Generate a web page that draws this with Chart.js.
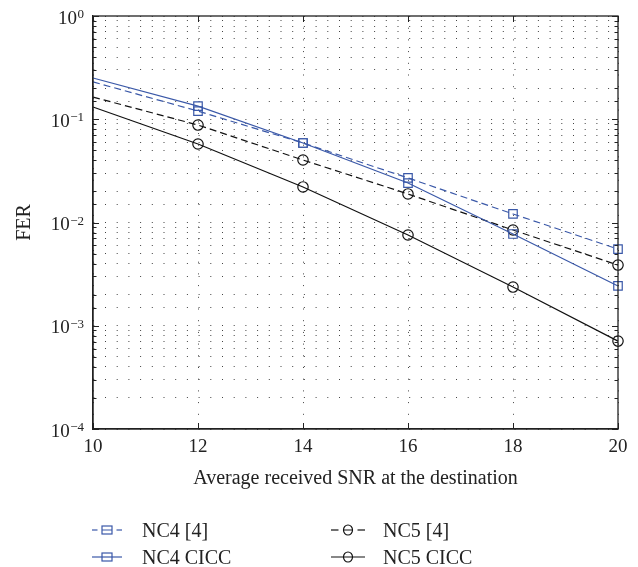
<!DOCTYPE html>
<html><head><meta charset="utf-8">
<script src="https://cdn.jsdelivr.net/npm/chart.js@4/dist/chart.umd.min.js"></script>
<style>
html,body{margin:0;padding:0;background:#fff;}
#wrap{position:relative;width:638px;height:567px;}
#c{position:absolute;left:0;top:0;}
.leg{position:absolute;font-family:"Liberation Serif","Times New Roman",serif;font-size:20px;color:#222;height:24px;line-height:24px;white-space:nowrap;}
.leg svg{position:absolute;left:0;top:0;}
.leg span{position:absolute;top:0;}
</style></head><body>
<div id="wrap"><canvas id="c" width="638" height="567"></canvas><div id="legend"></div></div>
<script>
const snr = [10, 12, 14, 16, 18, 20];
const nc4Ref  = [0.230, 0.120, 0.0589, 0.0270, 0.0121, 0.00553];
const nc4Cicc = [0.251, 0.134, 0.0589, 0.0241, 0.00774, 0.00243];
const nc5Ref  = [0.164, 0.0879, 0.0403, 0.0189, 0.00846, 0.00387];
const nc5Cicc = [0.1315, 0.0576, 0.0221, 0.00757, 0.00237, 0.00071];
const seriesLabels = ['NC4 [4]', 'NC4 CICC', 'NC5 [4]', 'NC5 CICC'];
const yExponents = [-4, -3, -2, -1, 0];
const yTickBase = '10';
const yTickExp = ['\u22124', '\u22123', '\u22122', '\u22121', '0'];
const xTickLabels = ['10', '12', '14', '16', '18', '20'];
const xTitle = 'Average received SNR at the destination';
const yTitle = 'FER';

const BLUE = '#3a58a8';
const BLACK = '#111';
const DASH = [7, 4];
const serif = '"Liberation Serif", "Times New Roman", serif';

function pts(arr){ return snr.map((x,i)=>({x:x, y:arr[i]})); }
function ds(label, arr, color, dashed, style){
  return {
    label: label, data: pts(arr), borderColor: color, borderWidth: 1.2,
    borderDash: dashed ? DASH : [], pointStyle: style,
    pointRadius: c => c.dataIndex === 0 ? 0 : (style === 'rect' ? 6 : 5.2),
    pointBorderColor: color, pointBackgroundColor: 'rgba(0,0,0,0)', pointBorderWidth: 1.2,
    fill: false, tension: 0, clip: 10
  };
}
const styles = [
  {color: BLUE, dashed: true, style: 'rect'},
  {color: BLUE, dashed: false, style: 'rect'},
  {color: BLACK, dashed: true, style: 'circle'},
  {color: BLACK, dashed: false, style: 'circle'}
];
const seriesData = [nc4Ref, nc4Cicc, nc5Ref, nc5Cicc];

function decadeIndex(v){
  const e = Math.log10(v);
  const r = Math.round(e);
  if (Math.abs(e - r) < 1e-6) return yExponents.indexOf(r);
  return -1;
}

const frame = {
  id: 'frame',
  afterDraw(chart){
    const ctx = chart.ctx, a = chart.chartArea, ys = chart.scales.y, xs = chart.scales.x;
    ctx.save();
    ctx.strokeStyle = '#222'; ctx.lineWidth = 1;
    ctx.beginPath();
    ys.ticks.forEach(t => {
      const p = Math.round(ys.getPixelForValue(t.value)) + 0.5;
      const len = decadeIndex(t.value) >= 0 ? 6 : 3.5;
      ctx.moveTo(a.left, p); ctx.lineTo(a.left + len, p);
      ctx.moveTo(a.right, p); ctx.lineTo(a.right - len, p);
    });
    xs.ticks.forEach(t => {
      const p = Math.round(xs.getPixelForValue(t.value)) + 0.5;
      ctx.moveTo(p, a.bottom); ctx.lineTo(p, a.bottom - 6);
      ctx.moveTo(p, a.top); ctx.lineTo(p, a.top + 6);
    });
    ctx.stroke();
    ctx.lineWidth = 1.3;
    ctx.strokeRect(a.left, a.top, a.right - a.left, a.bottom - a.top);
    // y tick labels: 10 with superscript exponent
    ctx.fillStyle = '#222';
    ctx.textBaseline = 'alphabetic';
    ys.ticks.forEach(t => {
      const i = decadeIndex(t.value);
      if (i < 0) return;
      const p = ys.getPixelForValue(t.value);
      const right = a.left - 9;
      ctx.font = '13px ' + serif;
      const ew = ctx.measureText(yTickExp[i]).width;
      ctx.textAlign = 'right';
      ctx.fillText(yTickExp[i], right, p + 2);
      ctx.font = '19px ' + serif;
      ctx.fillText(yTickBase, right - ew - 0.5, p + 7.5);
    });
    ctx.restore();
  }
};

new Chart(document.getElementById('c'), {
  type: 'line',
  data: { datasets: seriesData.map((arr,i)=>ds(seriesLabels[i], arr, styles[i].color, styles[i].dashed, styles[i].style)) },
  options: {
    responsive: false, animation: false, devicePixelRatio: 1,
    layout: { padding: { left: 0, right: 20, top: 16, bottom: 76 } },
    plugins: { legend: { display: false }, tooltip: { enabled: false } },
    scales: {
      x: {
        type: 'linear', min: 10, max: 20,
        afterFit: s => { s.height = 62; },
        ticks: { stepSize: 2, autoSkip: false, maxRotation: 0, padding: 7, color: '#222',
          font: { family: serif, size: 19 },
          callback: (v) => { const i = snr.indexOf(v); return i >= 0 ? xTickLabels[i] : ''; } },
        grid: { color: '#444', lineWidth: 1, drawTicks: false },
        border: { display: true, color: '#222', width: 1.3, dash: [1, 10.7] },
        title: { display: true, text: xTitle, color: '#222', font: { family: serif, size: 20 }, padding: { top: 0, bottom: 0 } }
      },
      y: {
        type: 'logarithmic', min: 1e-4, max: 1,
        afterFit: s => { s.width = 93; },
        ticks: { display: false, autoSkip: false },
        grid: { color: '#444', lineWidth: 1, drawTicks: false },
        border: { display: true, color: '#222', width: 1.3, dash: [1, 10.7] },
        title: { display: true, text: yTitle, color: '#222', font: { family: serif, size: 20 }, padding: { top: 13, bottom: 0 } }
      }
    }
  },
  plugins: [frame]
});

// HTML legend built from the series definitions
const legendPos = [
  {left: 92, top: 518, w: 30, tx: 50}, {left: 92, top: 545, w: 30, tx: 50},
  {left: 331, top: 518, w: 34, tx: 52}, {left: 331, top: 545, w: 34, tx: 52}
];
const legend = document.getElementById('legend');
seriesLabels.forEach((lab, i) => {
  const st = styles[i], p = legendPos[i];
  const d = document.createElement('div');
  d.className = 'leg';
  d.style.left = p.left + 'px'; d.style.top = p.top + 'px'; d.style.width = '180px';
  const w = p.w, cx = w / 2, cy = 12;
  const r = 5;
  let line = st.dashed
    ? `<line x1="0" y1="${cy}" x2="${cx-9.5}" y2="${cy}" stroke="${st.color}" stroke-width="1.2"/><line x1="${cx+9.5}" y1="${cy}" x2="${w}" y2="${cy}" stroke="${st.color}" stroke-width="1.2"/><line x1="${cx-r}" y1="${cy}" x2="${cx+r}" y2="${cy}" stroke="${st.color}" stroke-width="1"/>`
    : `<line x1="0" y1="${cy}" x2="${w}" y2="${cy}" stroke="${st.color}" stroke-width="1.2"/>`;
  let mark = st.style === 'rect'
    ? `<rect x="${cx-r}" y="${cy-r+1}" width="${2*r}" height="${2*r-2}" fill="none" stroke="${st.color}" stroke-width="1.2"/>`
    : `<ellipse cx="${cx}" cy="${cy}" rx="4.5" ry="5" fill="none" stroke="${st.color}" stroke-width="1.2"/>`;
  d.innerHTML = `<svg width="${w}" height="24">${line}${mark}</svg><span style="left:${p.tx}px">${lab}</span>`;
  legend.appendChild(d);
});
</script>
</body></html>
